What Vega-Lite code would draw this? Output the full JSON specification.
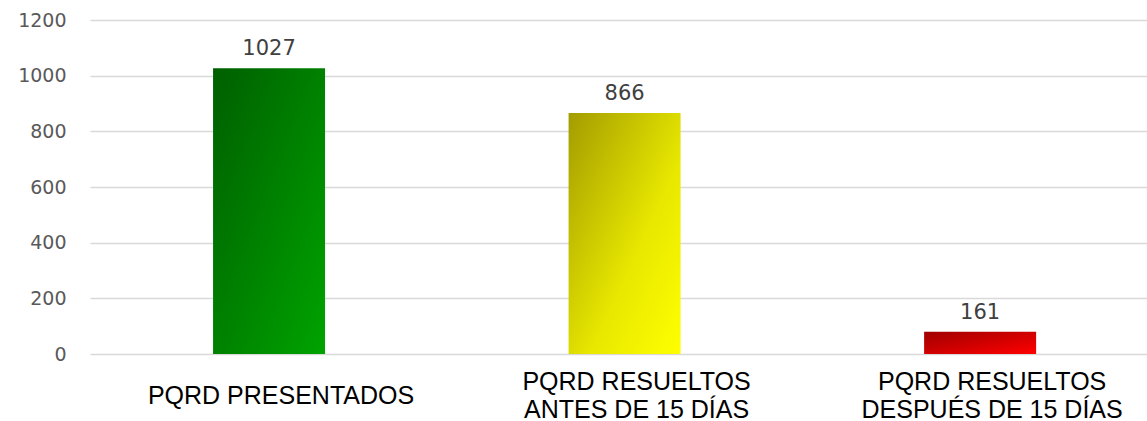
{
  "$schema": "https://vega.github.io/schema/vega-lite/v6.json",
  "width": 1057,
  "height": 334,
  "autosize": "none",
  "padding": {"left": 90, "top": 20, "right": 0, "bottom": 67},
  "background": "white",
  "config": {"view": {"stroke": null}},
  "data": {
    "values": [
      {"cat": "PQRD PRESENTADOS", "bar": 1027, "label": 1027},
      {"cat": "PQRD RESUELTOS\nANTES DE 15 DÍAS", "bar": 866, "label": 866},
      {"cat": "PQRD RESUELTOS\nDESPUÉS DE 15 DÍAS", "bar": 80, "label": 161}
    ]
  },
  "encoding": {
    "x": {
      "field": "cat",
      "type": "nominal",
      "sort": null,
      "scale": {
        "domain": ["PQRD PRESENTADOS", "PQRD RESUELTOS\nANTES DE 15 DÍAS", "PQRD RESUELTOS\nDESPUÉS DE 15 DÍAS"],
        "paddingInner": 0.685,
        "paddingOuter": 0.329,
        "align": 0.526
      },
      "axis": {
        "title": null,
        "labelAngle": 0,
        "ticks": false,
        "domain": false,
        "labelExpr": "split(datum.label, '\\n')",
        "labelFont": "Liberation Sans",
        "labelFontSize": 25,
        "labelColor": "#000000",
        "labelPadding": {"condition": {"test": "indexof(datum.value, '\\n') >= 0", "value": 27}, "value": 41},
        "labelBaseline": "middle",
        "labelLineHeight": 28,
        "labelOffset": 12,
        "labelLimit": 0,
        "labelOverlap": false,
        "labelBound": false
      }
    },
    "y": {
      "field": "bar",
      "type": "quantitative",
      "scale": {"domain": [0, 1200], "nice": false},
      "axis": {
        "title": null,
        "values": [0, 200, 400, 600, 800, 1000, 1200],
        "format": "d",
        "grid": true,
        "gridColor": "#d9d9d9",
        "gridWidth": 1.5,
        "domain": false,
        "ticks": false,
        "labelFont": "DejaVu Sans",
        "labelFontSize": 19,
        "labelColor": "#595959",
        "labelPadding": 24
      }
    }
  },
  "layer": [
    {
      "transform": [{"filter": "datum.label == 1027"}],
      "mark": {
        "type": "bar",
        "color": {
          "gradient": "linear", "x1": 0, "y1": 0, "x2": 1, "y2": 1,
          "stops": [{"offset": 0, "color": "#005f00"}, {"offset": 1, "color": "#00a300"}]
        }
      }
    },
    {
      "transform": [{"filter": "datum.label == 866"}],
      "mark": {
        "type": "bar",
        "color": {
          "gradient": "linear", "x1": 0, "y1": 0, "x2": 1, "y2": 1,
          "stops": [{"offset": 0, "color": "#a39c00"}, {"offset": 0.6, "color": "#e8e800"}, {"offset": 1, "color": "#ffff00"}]
        }
      }
    },
    {
      "transform": [{"filter": "datum.label == 161"}],
      "mark": {
        "type": "bar",
        "color": {
          "gradient": "linear", "x1": 0, "y1": 0, "x2": 1, "y2": 1,
          "stops": [{"offset": 0, "color": "#a00000"}, {"offset": 1, "color": "#ff0000"}]
        }
      }
    },
    {
      "mark": {
        "type": "text",
        "baseline": "alphabetic",
        "dy": -13,
        "font": "DejaVu Sans",
        "fontSize": 21,
        "color": "#404040"
      },
      "encoding": {"text": {"field": "label", "type": "quantitative"}}
    }
  ]
}
